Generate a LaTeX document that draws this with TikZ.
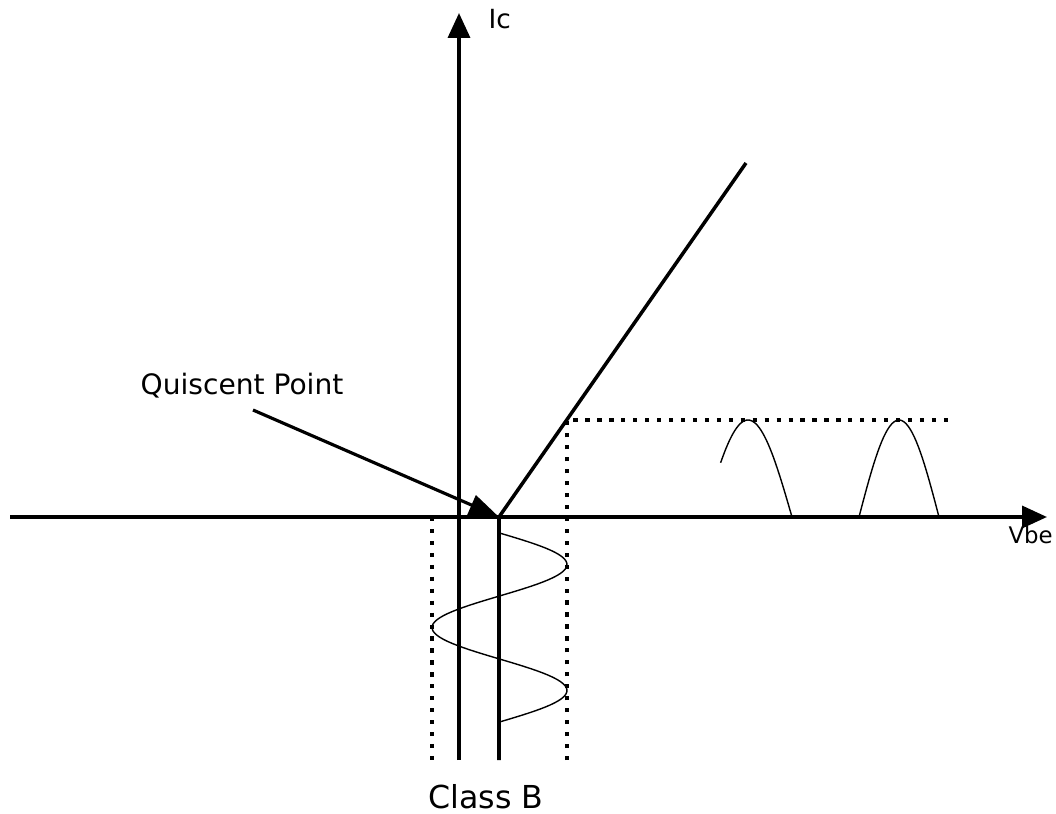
\documentclass[tikz,border=0pt]{standalone}
\usepackage{fontspec}
\setmainfont{DejaVu Sans}
\usetikzlibrary{arrows.meta, positioning}
\definecolor{cblack}{HTML}{000000}
\tikzset{
  every picture/.style={line width=2pt},
  axis/.style={draw=cblack, line width=2pt},
  axisarrow/.style={axis, -{Triangle[length=0.5cm, width=0.44cm]}},
  guide/.style={draw=cblack, line width=2pt, dash pattern=on 2.4pt off 4.4pt},
  wave/.style={draw=cblack, line width=0.8pt},
  pointer/.style={draw=cblack, line width=1.8pt, -{Triangle[length=0.6cm, width=0.42cm]}},
  label/.style={font=\fontsize{16}{18}\selectfont},
  tick/.style={font=\fontsize{15}{17}\selectfont},
}

\begin{document}
\begin{tikzpicture}[x=0.02cm, y=-0.02cm]
  \useasboundingbox (0,0) rectangle (1056,814);

  % axes
  \coordinate (left) at (10,517);
  \coordinate (right) at (1047,517);
  \coordinate (bottom) at (459,760);
  \coordinate (top) at (459,13);
  \draw[axisarrow] (left) -- (right);
  \draw[axisarrow] (bottom) -- (top);
  \node[tick, anchor=west] (ic) at (481,19) {Ic};
  \node[tick, anchor=west, font=\fontsize{13}{15}\selectfont] (vbe) at (1001,535) {Vbe};

  % transfer characteristic
  \coordinate (q) at (499,517);
  \coordinate (knee) at (746,163);
  \coordinate (qdown) at (499,760);
  \draw[axis] (qdown) -- (q) -- (knee);

  % swing limits
  \coordinate (hi) at (567,420);
  \draw[guide] (567,760) -- (hi) -- (952,420);
  \draw[guide] (432,517) -- (432,760);

  % input signal
  \draw[wave] plot[domain=0:540, samples=90] ({499.5+67.5*sin(\x)}, {533+\x*0.35});

  % output signal
  \draw[wave] plot[domain=-56:90, samples=40] ({748+\x*44/90}, {517-97*cos(\x)});
  \draw[wave] plot[domain=0:180, samples=40] ({859+\x*80/180}, {517-97*sin(\x)});

  % labels
  \node[label] (qp) at (242,386) {Quiscent Point};
  \draw[pointer] (253,410) -- (q);
  \node[label, font=\fontsize{18}{20}\selectfont] (cls) at (486,797) {Class B};
\end{tikzpicture}
\end{document}
